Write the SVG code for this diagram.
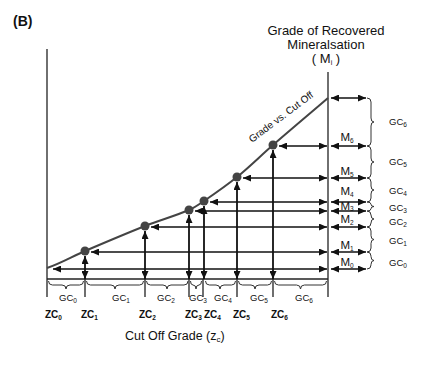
<svg xmlns="http://www.w3.org/2000/svg" width="442" height="365" viewBox="0 0 442 365">
<style>
text{font-family:"Liberation Sans",Arial,sans-serif;fill:#111}
.ax{stroke:#222;stroke-width:1.3;fill:none}
.h{stroke:#111;stroke-width:1.3;fill:none;marker-start:url(#ah);marker-end:url(#ah)}
.v{stroke:#111;stroke-width:1.8;fill:none;marker-start:url(#ah);marker-end:url(#ah)}
.br{stroke:#333;stroke-width:1;fill:none}
.gc{font-size:9.5px}
.zc{font-size:10px;font-weight:bold}
.m{font-size:11.5px;text-anchor:middle}
.s{font-size:6.5px}
</style>
<defs>
<marker id="ah" markerUnits="userSpaceOnUse" markerWidth="8" markerHeight="7" refX="8" refY="3.5" orient="auto-start-reverse"><path d="M0,0 L8,3.5 L0,7 z" fill="#111"/></marker>
</defs>
<text x="13" y="26" font-size="14" font-weight="bold">(B)</text>
<g id="title">
<text x="326" y="35" font-size="13" text-anchor="middle">Grade of Recovered</text>
<text x="326" y="49" font-size="13" text-anchor="middle">Mineralsation</text>
<text x="326" y="63" font-size="13" text-anchor="middle">( M<tspan font-size="7" dy="2">i</tspan><tspan dy="-2"> )</tspan></text>
</g>
<g id="axes">
<line class="ax" x1="47" y1="49" x2="47" y2="297"/>
<line class="ax" x1="328" y1="72" x2="328" y2="297"/>
<line class="ax" x1="47" y1="279" x2="328" y2="279"/>
<path class="ax" d="M85,279V297M145,279V297M189,279V297M203,279V297M237,279V297M273,279V297"/>
</g>
<g id="curve">
<path d="M47,268 C60.2,263.7 72.2,256.5 85,251 C104.9,242.5 124.8,234 145,226 C159.5,220.3 174.6,216.1 189,210 C194.3,207.7 199.2,204.3 204,201 C215.2,193.3 226.4,185.6 237,177 C249.5,166.9 260.8,155.6 273,145 C291.2,129.2 309.7,113.7 328,98" fill="none" stroke="#444" stroke-width="2"/>
<text transform="translate(252,143) rotate(-37)" font-size="10">Grade  vs. Cut Off</text>
</g>
<g id="connectors">
<line class="h" x1="53" y1="269" x2="327" y2="269"/>
<line class="h" x1="91" y1="252" x2="327" y2="252"/>
<line class="h" x1="151" y1="227" x2="327" y2="227"/>
<line class="h" x1="195" y1="211" x2="327" y2="211"/>
<line class="h" x1="210" y1="202" x2="327" y2="202"/>
<line class="h" x1="243" y1="178" x2="327" y2="178"/>
<line class="h" x1="279" y1="146" x2="327" y2="146"/>
<line class="h" x1="331" y1="98" x2="366" y2="98"/>
<line class="h" x1="331" y1="146" x2="366" y2="146"/>
<line class="h" x1="331" y1="178" x2="366" y2="178"/>
<line class="h" x1="331" y1="202" x2="366" y2="202"/>
<line class="h" x1="331" y1="211" x2="366" y2="211"/>
<line class="h" x1="331" y1="227" x2="366" y2="227"/>
<line class="h" x1="331" y1="252" x2="366" y2="252"/>
<line class="h" x1="331" y1="269" x2="366" y2="269"/>
<line class="v" x1="85" y1="256" x2="85" y2="279"/>
<line class="v" x1="145" y1="231" x2="145" y2="279"/>
<line class="v" x1="189" y1="215" x2="189" y2="279"/>
<line class="v" x1="204" y1="206" x2="204" y2="279"/>
<line class="v" x1="237" y1="182" x2="237" y2="279"/>
<line class="v" x1="273" y1="150" x2="273" y2="279"/>
</g>
<g id="dots" fill="#444">
<circle cx="85" cy="251" r="4.5"/>
<circle cx="145" cy="226" r="4.5"/>
<circle cx="189" cy="210" r="4.5"/>
<circle cx="204" cy="201" r="4.5"/>
<circle cx="237" cy="177" r="4.5"/>
<circle cx="273" cy="145" r="4.5"/>
</g>
<g id="right-braces">
<path class="br" d="M367,98 Q371,98 371,102 L371,118 Q371,122 374,122 Q371,122 371,126 L371,142 Q371,146 367,146"/>
<path class="br" d="M367,146 Q371,146 371,150 L371,158 Q371,162 374,162 Q371,162 371,166 L371,174 Q371,178 367,178"/>
<path class="br" d="M367,178 Q371,178 371,182 L371,186 Q371,190 374,190 Q371,190 371,194 L371,198 Q371,202 367,202"/>
<path class="br" d="M367,202 Q371,202 371,204.25 Q371,206.5 374,206.5 Q371,206.5 371,208.75 Q371,211 367,211"/>
<path class="br" d="M367,211 Q371,211 371,215 Q371,219 374,219 Q371,219 371,223 Q371,227 367,227"/>
<path class="br" d="M367,227 Q371,227 371,231 L371,235.5 Q371,239.5 374,239.5 Q371,239.5 371,243.5 L371,248 Q371,252 367,252"/>
<path class="br" d="M367,252 Q371,252 371,256 L371,256.5 Q371,260.5 374,260.5 Q371,260.5 371,264.5 L371,265 Q371,269 367,269"/>
</g>
<g id="bottom-braces">
<path class="br" d="M48.5,281 Q48.5,285 52.5,285 L62,285 Q66,285 66,289 Q66,285 70,285 L79.5,285 Q83.5,285 83.5,281"/>
<path class="br" d="M86.5,281 Q86.5,285 90.5,285 L111,285 Q115,285 115,289 Q115,285 119,285 L139.5,285 Q143.5,285 143.5,281"/>
<path class="br" d="M146.5,281 Q146.5,285 150.5,285 L163,285 Q167,285 167,289 Q167,285 171,285 L184,285 Q188,285 188,281"/>
<path class="br" d="M190.5,281 Q190.5,285 193,285 Q196,285 196,289 Q196,285 199,285 Q201.5,285 201.5,281"/>
<path class="br" d="M205.5,281 Q205.5,285 209.5,285 L216,285 Q220,285 220,289 Q220,285 224,285 L231.5,285 Q235.5,285 235.5,281"/>
<path class="br" d="M238.5,281 Q238.5,285 242.5,285 L251,285 Q255,285 255,289 Q255,285 259,285 L267.5,285 Q271.5,285 271.5,281"/>
<path class="br" d="M274.5,281 Q274.5,285 278.5,285 L296.5,285 Q300.5,285 300.5,289 Q300.5,285 304.5,285 L322.5,285 Q326.5,285 326.5,281"/>
</g>
<g id="m-labels">
<text class="m" x="347" y="141">M<tspan class="s" dy="2">6</tspan></text>
<text class="m" x="347" y="175">M<tspan class="s" dy="2">5</tspan></text>
<text class="m" x="347" y="195">M<tspan class="s" dy="1.5">4</tspan></text>
<text class="m" x="347" y="210">M<tspan class="s" dy="1">3</tspan></text>
<text class="m" x="347" y="223">M<tspan class="s" dy="2">2</tspan></text>
<text class="m" x="347" y="249">M<tspan class="s" dy="2">1</tspan></text>
<text class="m" x="347" y="266">M<tspan class="s" dy="2">0</tspan></text>
</g>
<g id="right-gc" class="gc">
<text x="389" y="125">GC<tspan class="s" dy="2">6</tspan></text>
<text x="389" y="165">GC<tspan class="s" dy="2">5</tspan></text>
<text x="389" y="194">GC<tspan class="s" dy="2">4</tspan></text>
<text x="389" y="211">GC<tspan class="s" dy="2">3</tspan></text>
<text x="389" y="225">GC<tspan class="s" dy="2">2</tspan></text>
<text x="389" y="244">GC<tspan class="s" dy="2">1</tspan></text>
<text x="389" y="266">GC<tspan class="s" dy="2">0</tspan></text>
</g>
<g id="bottom-gc" class="gc" text-anchor="middle">
<text x="68" y="301">GC<tspan class="s" dy="2">0</tspan></text>
<text x="121" y="301">GC<tspan class="s" dy="2">1</tspan></text>
<text x="166" y="301">GC<tspan class="s" dy="2">2</tspan></text>
<text x="198" y="301">GC<tspan class="s" dy="2">3</tspan></text>
<text x="223" y="301">GC<tspan class="s" dy="2">4</tspan></text>
<text x="259" y="301">GC<tspan class="s" dy="2">5</tspan></text>
<text x="304" y="301">GC<tspan class="s" dy="2">6</tspan></text>
</g>
<g id="zc-labels" class="zc">
<text x="45" y="318">ZC<tspan class="s" dy="2">0</tspan></text>
<text x="81" y="318">ZC<tspan class="s" dy="2">1</tspan></text>
<text x="139" y="318">ZC<tspan class="s" dy="2">2</tspan></text>
<text x="185" y="318">ZC<tspan class="s" dy="2">3</tspan></text>
<text x="204" y="318">ZC<tspan class="s" dy="2">4</tspan></text>
<text x="233" y="318">ZC<tspan class="s" dy="2">5</tspan></text>
<text x="271" y="318">ZC<tspan class="s" dy="2">6</tspan></text>
</g>
<text x="125" y="340" font-size="12.5">Cut Off Grade (z<tspan font-size="8" dy="2">c</tspan><tspan dy="-2">)</tspan></text>
</svg>
